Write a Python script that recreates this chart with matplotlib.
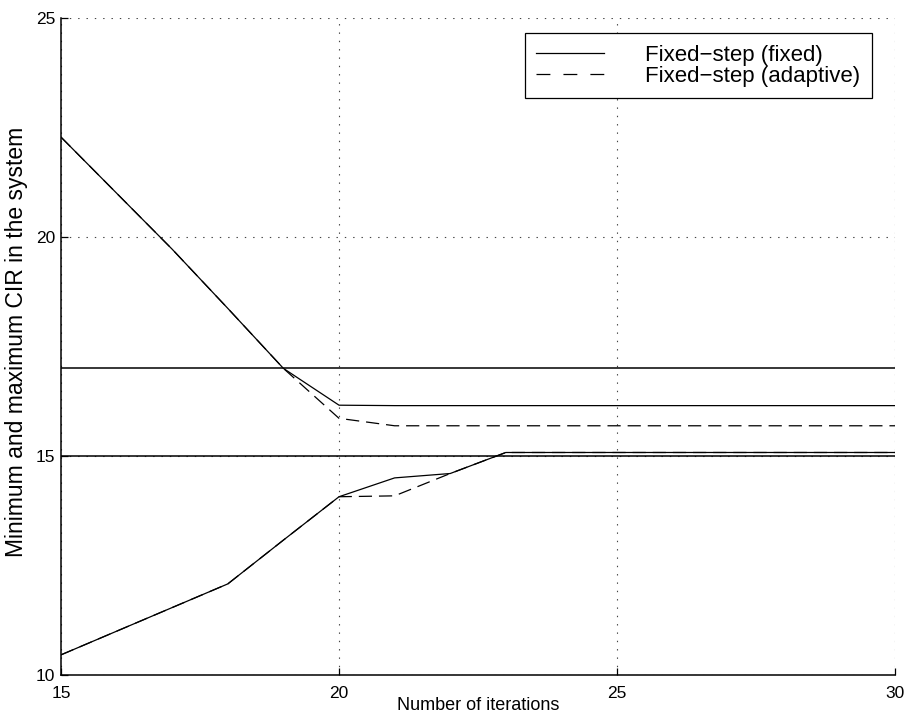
import numpy as np
import matplotlib
matplotlib.use("Agg")
import matplotlib.pyplot as plt

# Данные
iterations = [15, 16, 17, 18, 19, 20, 21, 22, 23, 24, 25, 26, 27, 28, 29, 30]

# Фиксированный шаг (fixed): максимум и минимум CIR
fixed_max = [22.28, 21.0, 19.72, 18.37, 17.0, 16.16, 16.15, 16.15, 16.15, 16.15,
             16.15, 16.15, 16.15, 16.15, 16.15, 16.15]
fixed_min = [10.46, 11.0, 11.54, 12.08, 13.08, 14.07, 14.5, 14.6, 15.08, 15.08,
             15.08, 15.08, 15.08, 15.08, 15.08, 15.08]

# Фиксированный шаг (adaptive)
adaptive_max = [22.28, 21.0, 19.72, 18.37, 17.0, 15.86, 15.69, 15.69, 15.69, 15.69,
                15.69, 15.69, 15.69, 15.69, 15.69, 15.69]
adaptive_min = [10.46, 11.0, 11.54, 12.08, 13.08, 14.07, 14.09, 14.6, 15.08, 15.08,
                15.08, 15.08, 15.08, 15.08, 15.08, 15.08]

# Целевые границы CIR
target_bounds = [15, 17]

x_ticks = [15, 20, 25, 30]
y_ticks = [10, 15, 20, 25]

plt.rcParams['font.family'] = ['Liberation Sans', 'DejaVu Sans']
plt.rcParams['lines.scale_dashes'] = False

fig = plt.figure(figsize=(9.08, 7.23), dpi=100)
ax = fig.add_axes([0.0672, 0.0664, 0.9185, 0.9087])

lw = 0.9
dash = (0, (9.5, 5))

line_fixed, = ax.plot(iterations, fixed_max, color='black', linewidth=lw,
                      label='Fixed\u2212step (fixed)')
ax.plot(iterations, fixed_min, color='black', linewidth=lw)
line_adapt, = ax.plot(iterations, adaptive_max, color='black', linewidth=lw,
                      linestyle=dash, label='Fixed\u2212step (adaptive)')
ax.plot(iterations, adaptive_min, color='black', linewidth=lw, linestyle=dash)

for b in target_bounds:
    ax.axhline(b, color='black', linewidth=1.1, zorder=3)

ax.set_xlim(15, 30)
ax.set_ylim(10, 25)
ax.set_xticks(x_ticks)
ax.set_yticks(y_ticks)
ax.tick_params(direction='in', length=5, width=0.9, labelsize=12.5)
ax.tick_params(axis='x', pad=8)
ax.tick_params(axis='y', pad=4)
ax.spines['top'].set_visible(False)
ax.spines['right'].set_visible(False)
for s in ['left', 'bottom']:
    ax.spines[s].set_linewidth(1.1)

ax.grid(True, linestyle=(0, (1, 5)), color='#444444', linewidth=0.8)

ax.set_xlabel('Number of iterations', fontsize=13, labelpad=-3)
ax.set_ylabel('Minimum and maximum CIR in the system', fontsize=16.5)
ax.yaxis.set_label_coords(-0.0396, 0.507)

leg = ax.legend(handles=[line_fixed, line_adapt], loc='upper right',
                bbox_to_anchor=(0.9724, 0.9772), borderaxespad=0,
                fontsize=16, frameon=True,
                fancybox=False, edgecolor='black', framealpha=1,
                handlelength=3.06, handletextpad=1.85, borderpad=0.52,
                labelspacing=0.0)
leg.get_frame().set_linewidth(0.9)
leg.get_lines()[1].set_linestyle((0, (10, 9.4)))

fig.savefig('out.png', dpi=100)
